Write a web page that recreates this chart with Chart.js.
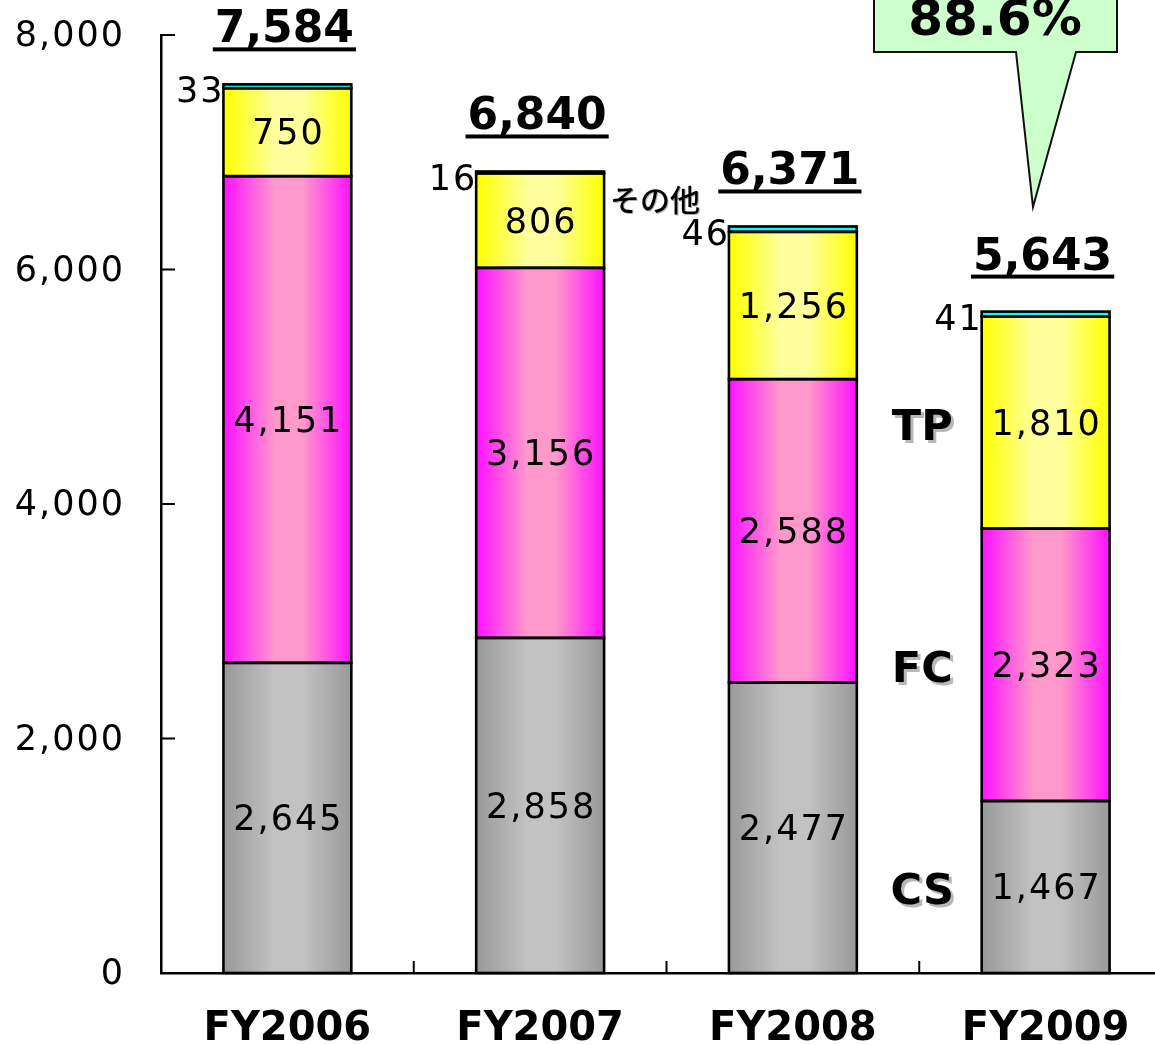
<!DOCTYPE html>
<html>
<head>
<meta charset="utf-8">
<script src="https://cdn.jsdelivr.net/npm/chart.js@4.4.0/dist/chart.umd.min.js"></script>
<style>
html, body { margin: 0; padding: 0; background: #fff; overflow: hidden; }
#wrap { width: 1172px; height: 1045px; }
</style>
</head>
<body>
<div id="wrap"><canvas id="myChart" width="1172" height="1045"></canvas></div>
<script>
var years = ["FY2006", "FY2007", "FY2008", "FY2009"];
var csValues = [2645, 2858, 2477, 1467];
var fcValues = [4151, 3156, 2588, 2323];
var tpValues = [750, 806, 1256, 1810];
var otherValues = [33, 16, 46, 41];
var totals = [7584, 6840, 6371, 5643];
var yTicks = [0, 2000, 4000, 6000, 8000];
var seriesNames = ["CS", "FC", "TP", "その他"];
var ratioText = "88.6%";

var barPct = 0.506;

function fmt(v) { return v.toLocaleString("en-US"); }

// horizontal gradient across each bar: dark edges, light middle
function barGradient(edge, mid) {
  return function(context) {
    var chart = context.chart;
    if (!chart.chartArea || context.dataIndex === undefined) return edge;
    var xs = chart.scales.x;
    var cx = xs.getPixelForValue(context.dataIndex);
    var w = (xs.width / years.length) * barPct;
    var g = chart.ctx.createLinearGradient(cx - w / 2, 0, cx + w / 2, 0);
    g.addColorStop(0, edge);
    g.addColorStop(0.4, mid);
    g.addColorStop(0.62, mid);
    g.addColorStop(1, edge);
    return g;
  };
}

var extras = {
  id: "extras",
  afterDatasetsDraw: function(chart) {
    // black outline around every segment
    var ctx = chart.ctx;
    ctx.save();
    ctx.strokeStyle = "#000";
    ctx.lineWidth = 2.6;
    chart.data.datasets.forEach(function(ds, di) {
      chart.getDatasetMeta(di).data.forEach(function(bar) {
        ctx.strokeRect(bar.x - bar.width / 2, bar.y, bar.width, bar.base - bar.y);
      });
    });
    ctx.restore();
  },
  afterDraw: function(chart) {
    var ctx = chart.ctx;
    var xs = chart.scales.x, ys = chart.scales.y;
    var area = chart.chartArea;
    ctx.save();
    ctx.fillStyle = "#000";
    ctx.strokeStyle = "#000";

    // inward tick marks
    ctx.lineWidth = 2;
    yTicks.forEach(function(v) {
      var py = ys.getPixelForValue(v);
      ctx.beginPath(); ctx.moveTo(area.left, py); ctx.lineTo(area.left + 14, py); ctx.stroke();
    });
    for (var i = 1; i < years.length; i++) {
      var bx = (xs.getPixelForValue(i - 1) + xs.getPixelForValue(i)) / 2;
      ctx.beginPath(); ctx.moveTo(bx, area.bottom); ctx.lineTo(bx, area.bottom - 12); ctx.stroke();
    }

    // y tick labels
    ctx.font = '35px "DejaVu Sans"';
    ctx.letterSpacing = "2px";
    ctx.textAlign = "right";
    ctx.textBaseline = "middle";
    yTicks.forEach(function(v) {
      ctx.fillText(fmt(v), 125, ys.getPixelForValue(v) + 2);
    });

    // values inside segments
    ctx.textAlign = "center";
    [0, 1, 2].forEach(function(di) {
      chart.getDatasetMeta(di).data.forEach(function(bar, i) {
        var v = chart.data.datasets[di].data[i];
        ctx.fillText(fmt(v), bar.x + 1, (bar.y + bar.base) / 2 + 3);
      });
    });

    // small "other" values left of bar top
    ctx.textAlign = "right";
    var otherMeta = chart.getDatasetMeta(3).data;
    otherMeta.forEach(function(bar, i) {
      ctx.fillText(fmt(otherValues[i]), bar.x - bar.width / 2 + 1, bar.y + 9);
    });

    // totals, bold underlined
    ctx.letterSpacing = "0px";
    ctx.font = 'bold 44px "DejaVu Sans"';
    ctx.textAlign = "center";
    ctx.textBaseline = "alphabetic";
    otherMeta.forEach(function(bar, i) {
      var t = fmt(totals[i]);
      var base = bar.y - 42;
      ctx.fillText(t, bar.x - 3, base);
      var w = ctx.measureText(t).width;
      ctx.fillRect(bar.x - 3 - w / 2 - 2, base + 5, w + 4, 4);
    });

    // series names between FY2008 and FY2009
    var last = years.length - 1;
    var nameX = (xs.getPixelForValue(last - 1) + xs.getPixelForValue(last)) / 2 + 3;
    ctx.font = 'bold 43px "DejaVu Sans"';
    ctx.textBaseline = "middle";
    [0, 1, 2].forEach(function(di) {
      var bar = chart.getDatasetMeta(di).data[last];
      var my = (bar.y + bar.base) / 2 + 6;
      ctx.fillStyle = "#b8b8b8";
      ctx.fillText(seriesNames[di], nameX + 3, my + 3);
      ctx.fillStyle = "#000";
      ctx.fillText(seriesNames[di], nameX, my);
    });

    // その他 label next to FY2007
    var b2 = otherMeta[1];
    ctx.font = '500 30px "Noto Sans CJK JP"';
    ctx.textAlign = "left";
    ctx.fillStyle = "#b0b0b0";
    ctx.fillText(seriesNames[3], b2.x + b2.width / 2 + 7, b2.y + 29);
    ctx.fillStyle = "#000";
    ctx.fillText(seriesNames[3], b2.x + b2.width / 2 + 6, b2.y + 28);

    // callout
    ctx.beginPath();
    ctx.moveTo(874, -5);
    ctx.lineTo(1117, -5);
    ctx.lineTo(1117, 52);
    ctx.lineTo(1076, 52);
    ctx.lineTo(1033, 207);
    ctx.lineTo(1016, 52);
    ctx.lineTo(874, 52);
    ctx.closePath();
    ctx.fillStyle = "#ccffcc";
    ctx.fill();
    ctx.lineWidth = 2;
    ctx.strokeStyle = "#111";
    ctx.stroke();
    ctx.fillStyle = "#000";
    ctx.font = 'bold 50px "DejaVu Sans"';
    ctx.textAlign = "center";
    ctx.textBaseline = "alphabetic";
    ctx.fillText(ratioText, 995, 35);

    ctx.restore();
  }
};

var common = {
  borderWidth: 0,
  barPercentage: 1,
  categoryPercentage: barPct
};

var ctx = document.getElementById("myChart").getContext("2d");
var mychart = new Chart(ctx, {
  type: "bar",
  data: {
    labels: years,
    datasets: [
      Object.assign({ label: seriesNames[0], data: csValues, backgroundColor: barGradient("#999999", "#c2c2c2") }, common),
      Object.assign({ label: seriesNames[1], data: fcValues, backgroundColor: barGradient("#ff10ff", "#ff99cc") }, common),
      Object.assign({ label: seriesNames[2], data: tpValues, backgroundColor: barGradient("#ffff00", "#ffff9e") }, common),
      Object.assign({ label: seriesNames[3], data: otherValues, backgroundColor: "#00ffff" }, common)
    ]
  },
  options: {
    responsive: false,
    animation: false,
    layout: { padding: { top: 35, right: 0, left: 0, bottom: 0 } },
    plugins: { legend: { display: false }, tooltip: { enabled: false } },
    scales: {
      x: {
        stacked: true,
        grid: { display: false, drawTicks: false },
        border: { display: true, color: "#000", width: 2.5 },
        ticks: { color: "#000", padding: 33, font: { family: "DejaVu Sans", size: 40, weight: "bold" } },
        afterFit: function(s) { s.height = 72; }
      },
      y: {
        stacked: true,
        min: 0,
        max: 8000,
        afterBuildTicks: function(s) { s.ticks = yTicks.map(function(v) { return { value: v }; }); },
        grid: { display: false, drawTicks: false },
        border: { display: true, color: "#000", width: 2.5 },
        ticks: { display: false },
        afterFit: function(s) { s.width = 161; }
      }
    }
  },
  plugins: [extras]
});
</script>
</body>
</html>
